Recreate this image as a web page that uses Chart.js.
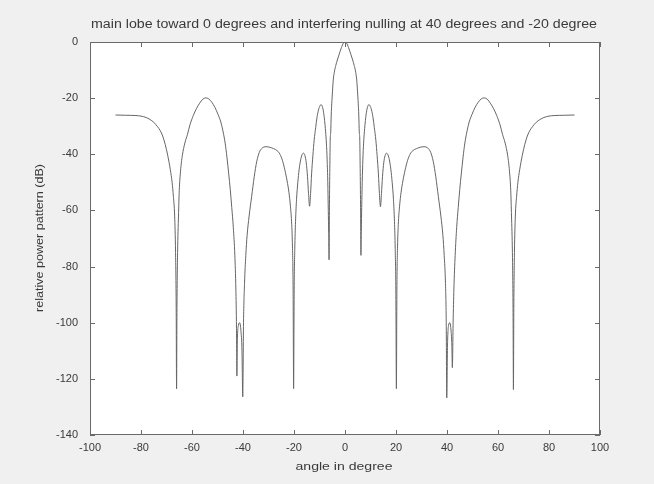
<!DOCTYPE html>
<html>
<head>
<meta charset="utf-8">
<script src="https://cdn.jsdelivr.net/npm/chart.js@4/dist/chart.umd.min.js"></script>
<style>
  html, body { margin: 0; padding: 0; background: #f0f0f0; }
  #wrap { width: 654px; height: 484px; }
</style>
</head>
<body>
<div id="wrap"><canvas id="c" width="654" height="484"></canvas></div>
<script>
const chartTitle = "main lobe toward 0 degrees and interfering nulling at 40 degrees and -20 degree";
const xAxisTitle = "angle in degree";
const yAxisTitle = "relative power pattern (dB)";

const xTicks = [-100, -80, -60, -40, -20, 0, 20, 40, 60, 80, 100];
const yTicks = [-140, -120, -100, -80, -60, -40, -20, 0];

const angles = [
  -90, -86, -82, -80, -78, -76.5, -75, -73.5, -72.5, -71.5, -70.5, -69.5, -68.5, -67.8, -67.3, -66.8, -66.45, -66.2, -66.05, -65.9,
  -65.65, -65.3, -65.0, -64.5, -63.8, -62.8, -61.8, -60.8, -59.5, -58.3, -57, -55.8, -54.6, -53.4, -52.2, -51, -49.8, -48.7, -47.8, -47.0,
  -46.3, -45.6, -45.0, -44.4, -43.8, -43.2, -42.8, -42.55, -42.4, -42.2, -41.8, -41.3, -40.8, -40.4, -40.1, -39.8, -39.4, -38.9, -38.4, -37.6,
  -36.6, -35.6, -34.6, -33.6, -32.5, -31.0, -29.5, -28, -26.6, -25.5, -24.5, -23.6, -22.7, -22.0, -21.4, -20.9, -20.6, -20.35, -20.15, -19.95,
  -19.7, -19.4, -19.0, -18.5, -18.0, -17.4, -16.9, -16.3, -15.7, -15.2, -14.7, -14.3, -13.9, -13.5, -13.1, -12.6, -12.1, -11.5, -11.0, -10.4,
  -9.8, -9.4, -9.0, -8.5, -8.0, -7.6, -7.3, -7.0, -6.75, -6.55, -6.4, -6.25, -6.1, -5.95, -5.8, -5.6, -5.4, -5.2, -4.9, -4.6,
  -4.1, -3.6, -3.0, -2.3, -1.6, -0.8, 0,
  0.8, 1.6, 2.3, 3.0, 3.6, 4.1, 4.6, 4.9, 5.2, 5.4, 5.6, 5.8, 5.95, 6.1, 6.25, 6.4, 6.55, 6.75, 7.0, 7.3,
  7.6, 8.0, 8.5, 9.0, 9.4, 9.8, 10.4, 11.0, 11.5, 12.1, 12.6, 13.1, 13.5, 13.9, 14.3, 14.7, 15.2, 15.7, 16.3, 16.9,
  17.4, 18.0, 18.5, 19.0, 19.4, 19.7, 19.95, 20.15, 20.35, 20.6, 20.9, 21.4, 22.0, 22.7, 23.6, 24.5, 25.5, 26.6, 28, 29.5,
  31.0, 32.5, 33.6, 34.6, 35.6, 36.6, 37.6, 38.4, 38.9, 39.4, 39.7, 39.9, 40.2, 40.6, 41.1, 41.6, 41.9, 42.1, 42.4, 42.7,
  43.2, 43.8, 44.4, 45.0, 45.6, 46.3, 47.0, 47.8, 48.7, 49.8, 51, 52.2, 53.4, 54.6, 55.8, 57, 58.3, 59.5, 60.8, 61.8,
  62.8, 63.8, 64.5, 65.0, 65.3, 65.65, 65.9, 66.05, 66.2, 66.45, 66.8, 67.3, 67.8, 68.5, 69.5, 70.5, 71.5, 72.5, 73.5, 75,
  76.5, 78, 80, 82, 86, 90
];

const power = [
  -26.0, -26.1, -26.2, -26.4, -26.9, -27.6, -28.6, -30.2, -31.5, -33.5, -36.5, -40.5, -45.5, -50, -55, -62, -75, -95, -123.5, -95,
  -75, -62, -53, -46, -40.5, -36, -33, -29.5, -26.2, -23.8, -21.8, -20.4, -19.9, -20.3, -21.5, -23.3, -25.8, -28.5, -32, -36,
  -41, -47, -52.5, -59, -66, -76, -88, -102, -119, -106, -101, -100, -103, -110, -126.4, -100, -86, -76, -69, -62,
  -55, -48, -42.5, -39.3, -37.8, -37.3, -37.5, -38, -38.7, -40, -42.3, -45.5, -49.5, -53.5, -58.5, -65, -73, -88, -123.5, -90,
  -74, -64, -56, -50, -45.5, -42, -40.3, -39.6, -40.5, -43, -48, -54, -58.5, -54, -47, -40.5, -35, -30.5, -27, -24.2,
  -22.7, -22.3, -22.7, -24.5, -28, -32, -36, -42, -50, -60, -68, -77.6, -58, -45, -35, -32, -26, -22, -17.5, -13.5,
  -10.3, -8.3, -6.4, -4.4, -2.5, -0.7, 0,
  -0.7, -2.5, -4.4, -6.4, -8.3, -10.3, -13.5, -17.5, -22, -26, -32, -35, -45, -58, -76, -67, -59, -50, -42, -36,
  -32, -28, -24.5, -22.7, -22.3, -22.7, -24.2, -27, -30.5, -35, -40.5, -47, -54, -58.7, -54, -48, -43, -40.5, -39.6, -40.3,
  -42, -45.5, -50, -56, -64, -74, -90, -123.5, -88, -73, -65, -58.5, -53.5, -49.5, -45.5, -42.3, -40, -38.7, -38, -37.5,
  -37.3, -37.8, -39.3, -42.5, -48, -55, -62, -69, -76, -86, -100, -126.8, -108, -101, -100, -103, -108, -116, -100, -88,
  -76, -66, -59, -52.5, -47, -41, -36, -32, -28.5, -25.8, -23.3, -21.5, -20.3, -19.9, -20.4, -21.8, -23.8, -26.2, -29.5, -33,
  -36, -40.5, -46, -53, -62, -75, -95, -123.8, -95, -75, -62, -55, -50, -45.5, -40.5, -36.5, -33.5, -31.5, -30.2, -28.6,
  -27.6, -26.9, -26.4, -26.2, -26.1, -26.0
];

const FONT = '"Liberation Sans", Arial, Helvetica, sans-serif';
const TEXT_COLOR = '#3a3a3a';
const AXIS_COLOR = '#6a6a6a';

function drawStretched(ctx, text, cx, cy, fontPx, targetWidth) {
  ctx.save();
  ctx.font = fontPx + 'px ' + FONT;
  const w = ctx.measureText(text).width;
  ctx.translate(cx, cy);
  ctx.scale(targetWidth / w, 1);
  ctx.fillText(text, 0, 0);
  ctx.restore();
}

const framePlugin = {
  id: 'frame',
  beforeDraw(chart) {
    const ctx = chart.ctx, a = chart.chartArea;
    ctx.save();
    ctx.fillStyle = '#f0f0f0';
    ctx.fillRect(0, 0, chart.width, chart.height);
    ctx.fillStyle = '#ffffff';
    ctx.fillRect(a.left, a.top, a.right - a.left, a.bottom - a.top);
    ctx.restore();
  },
  afterDraw(chart) {
    const ctx = chart.ctx, a = chart.chartArea;
    const xs = chart.scales.x, ys = chart.scales.y;
    ctx.save();
    ctx.strokeStyle = AXIS_COLOR;
    ctx.lineWidth = 1;
    ctx.strokeRect(Math.round(a.left) + 0.5, Math.round(a.top) + 0.5,
                   Math.round(a.right - a.left) - 1, Math.round(a.bottom - a.top) - 1);
    const tl = 5;
    ctx.beginPath();
    xTicks.forEach(v => {
      const px = Math.round(xs.getPixelForValue(v)) + 0.5;
      ctx.moveTo(px, a.bottom); ctx.lineTo(px, a.bottom - tl);
      ctx.moveTo(px, a.top); ctx.lineTo(px, a.top + tl);
    });
    yTicks.forEach(v => {
      const py = Math.round(ys.getPixelForValue(v)) + 0.5;
      ctx.moveTo(a.left, py); ctx.lineTo(a.left + tl, py);
      ctx.moveTo(a.right, py); ctx.lineTo(a.right - tl, py);
    });
    ctx.stroke();

    ctx.fillStyle = TEXT_COLOR;
    ctx.textAlign = 'center';
    ctx.textBaseline = 'middle';
    drawStretched(ctx, chartTitle, 344, 25, 12, 506);
    drawStretched(ctx, xAxisTitle, 344, 467, 11.5, 97);
    ctx.save();
    ctx.translate(40, 238);
    ctx.rotate(-Math.PI / 2);
    drawStretched(ctx, yAxisTitle, 0, 0, 11.5, 148);
    ctx.restore();
    ctx.restore();
  }
};

new Chart(document.getElementById('c'), {
  type: 'line',
  data: {
    datasets: [{
      data: angles.map((a, i) => ({ x: a, y: power[i] })),
      borderColor: '#666666',
      borderWidth: 1,
      pointRadius: 0,
      fill: false,
      cubicInterpolationMode: 'monotone'
    }]
  },
  options: {
    responsive: false,
    animation: false,
    events: [],
    layout: { padding: { left: 0, top: 42, right: 54, bottom: 0 } },
    plugins: { legend: { display: false }, tooltip: { enabled: false }, title: { display: false } },
    scales: {
      x: {
        type: 'linear', min: -100, max: 100,
        afterFit(s) { s.height = 49; },
        afterBuildTicks(s) { s.ticks = xTicks.map(v => ({ value: v })); },
        grid: { display: false, drawTicks: false },
        border: { display: false },
        ticks: { padding: 6, color: TEXT_COLOR, font: { family: FONT, size: 11 }, maxRotation: 0, autoSkip: false }
      },
      y: {
        type: 'linear', min: -140, max: 0,
        afterFit(s) { s.width = 90; },
        afterBuildTicks(s) { s.ticks = yTicks.map(v => ({ value: v })); },
        grid: { display: false, drawTicks: false },
        border: { display: false },
        ticks: { padding: 12, color: TEXT_COLOR, font: { family: FONT, size: 11 }, autoSkip: false }
      }
    }
  },
  plugins: [framePlugin]
});
</script>
</body>
</html>
